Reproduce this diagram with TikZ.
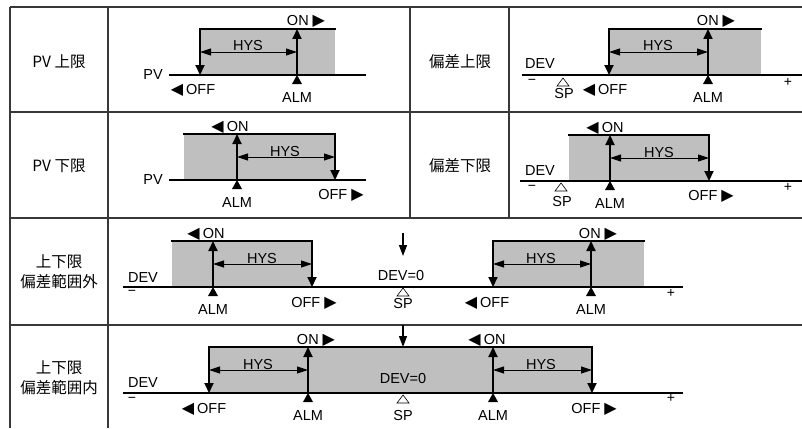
\documentclass[tikz,border=0pt]{standalone}
\usepackage{fontspec}
\setmainfont{Liberation Sans}
\newfontfamily\jpfont{Noto Sans CJK JP}
\newfontfamily\symfont{DejaVu Sans}
\usetikzlibrary{arrows.meta}
\newcommand{\rtri}{\hspace{4pt}{\symfont\fontsize{16}{16}\selectfont ▶}}
\newcommand{\ltri}{{\symfont\fontsize{16}{16}\selectfont ◀}\hspace{3pt}}

\begin{document}
\begin{tikzpicture}[x=1pt,y=-1pt,line join=miter,
  every node/.style={inner sep=0pt,font=\fontsize{14.5}{15}\selectfont},
  rule/.style={draw=black!78,line width=1.3pt},
  axisline/.style={line width=2.2pt},
  zone/.style={fill=black!25},
  rim/.style={line width=2pt,line cap=rect},
  flip/.style={line width=2pt,-{Triangle[length=10pt,width=9pt]}},
  hys/.style={line width=0.9pt,{Triangle[length=11pt,width=7pt]}-{Triangle[length=11pt,width=7pt]}},
  zero/.style={line width=1.3pt,-{Triangle[length=11pt,width=8pt]}},
  rowlabel/.style={font=\jpfont\fontsize{15.5}{20}\selectfont,align=center},
  sign/.style={font=\fontsize{14}{14}\selectfont},
  sptext/.style={anchor=base,font=\fontsize{14.5}{15}\selectfont},
  tag/.style={anchor=base}]
\useasboundingbox (0,0) rectangle (802,428);

% table
\foreach \y in {7,112,218,325} \draw[rule] (10,\y) -- (802,\y);
\foreach \x in {10,108} \draw[rule] (\x,7) -- (\x,428);
\foreach \x in {410,509} \draw[rule] (\x,7) -- (\x,218);

\node[rowlabel] (pvhi) at (59,62) {PV 上限};
\node[rowlabel] (devhi) at (460,62) {偏差上限};
\node[rowlabel] (pvlo) at (59,166) {PV 下限};
\node[rowlabel] (devlo) at (460,166) {偏差下限};
\node[rowlabel] (bandout) at (59,272) {上下限\\偏差範囲外};
\node[rowlabel] (bandin) at (59,378) {上下限\\偏差範囲内};

% PV upper
\begin{scope}[shift={(0,75)},name prefix=pu-]
  \path (169,0) coordinate (l) (366,0) coordinate (r)
        (200,-46) coordinate (t1) (200,0) coordinate (b1) (200,-23) coordinate (h1)
        (297,-46) coordinate (t2) (297,0) coordinate (b2) (297,-23) coordinate (h2)
        (335,-46) coordinate (t3) (335,0) coordinate (b3);
  \fill[zone] (t1) rectangle (b3);
  \draw[axisline] (l) -- (r);
  \draw[rim] (t1) -- (t3);
  \draw[flip] (t1) -- (b1);
  \draw[flip] (b2) -- (t2);
  \draw[hys] (h1) -- (h2);
  \fill (b2) -- ++(-5,9) -- ++(10,0) -- cycle;
  \node (pv) at (153,0) {PV};
  \node[tag] (hys) at (248,-24) {HYS};
  \node[tag] (on) at (306,-49) {ON\rtri};
  \node[tag] (off) at (193,19.5) {\ltri OFF};
  \node[tag] (alm) at (297,27) {ALM};
\end{scope}

% deviation upper
\begin{scope}[shift={(0,75)},name prefix=du-]
  \path (522,0) coordinate (l) (802,0) coordinate (r) (563,0) coordinate (sp)
        (609,-46) coordinate (t1) (609,0) coordinate (b1) (609,-23) coordinate (h1)
        (708,-46) coordinate (t2) (708,0) coordinate (b2) (708,-23) coordinate (h2)
        (761,-46) coordinate (t3) (761,0) coordinate (b3);
  \fill[zone] (t1) rectangle (b3);
  \draw[axisline] (l) -- (r);
  \draw[rim] (t1) -- (t3);
  \draw[flip] (t1) -- (b1);
  \draw[flip] (b2) -- (t2);
  \draw[hys] (h1) -- (h2);
  \fill (b2) -- ++(-5,9) -- ++(10,0) -- cycle;
  \draw[line width=0.6pt] (sp) ++(0,3) -- ++(6,8) -- ++(-12,0) -- cycle;
  \node[tag] (dev) at (540,-7) {DEV};
  \node[sign] (minus) at (532,7) {−};
  \node[sign] (plus) at (788,7) {+};
  \node[sptext] (spt) at (564,23) {SP};
  \node[tag] (hys) at (658,-24) {HYS};
  \node[tag] (on) at (716,-49) {ON\rtri};
  \node[tag] (off) at (605,19.5) {\ltri OFF};
  \node[tag] (alm) at (708,27) {ALM};
\end{scope}

% PV lower
\begin{scope}[shift={(0,180)},name prefix=pl-]
  \path (169,0) coordinate (l) (366,0) coordinate (r)
        (184,-46) coordinate (t0) (184,0) coordinate (b0)
        (237,-46) coordinate (t1) (237,0) coordinate (b1) (237,-23) coordinate (h1)
        (335,-46) coordinate (t2) (335,0) coordinate (b2) (335,-23) coordinate (h2);
  \fill[zone] (t0) rectangle (b2);
  \draw[axisline] (l) -- (r);
  \draw[rim] (t0) -- (t2);
  \draw[flip] (b1) -- (t1);
  \draw[flip] (t2) -- (b2);
  \draw[hys] (h1) -- (h2);
  \fill (b1) -- ++(-5,9) -- ++(10,0) -- cycle;
  \node (pv) at (153,0) {PV};
  \node[tag] (hys) at (285,-24) {HYS};
  \node[tag] (on) at (230,-49) {\ltri ON};
  \node[tag] (off) at (341,19.5) {OFF\rtri};
  \node[tag] (alm) at (237,27) {ALM};
\end{scope}

% deviation lower
\begin{scope}[shift={(0,181)},name prefix=dl-]
  \path (520,0) coordinate (l) (802,0) coordinate (r) (561,0) coordinate (sp)
        (569,-46) coordinate (t0) (569,0) coordinate (b0)
        (610,-46) coordinate (t1) (610,0) coordinate (b1) (610,-23) coordinate (h1)
        (709,-46) coordinate (t2) (709,0) coordinate (b2) (709,-23) coordinate (h2);
  \fill[zone] (t0) rectangle (b2);
  \draw[axisline] (l) -- (r);
  \draw[rim] (t0) -- (t2);
  \draw[flip] (b1) -- (t1);
  \draw[flip] (t2) -- (b2);
  \draw[hys] (h1) -- (h2);
  \fill (b1) -- ++(-5,9) -- ++(10,0) -- cycle;
  \draw[line width=0.6pt] (sp) ++(0,2) -- ++(6,8) -- ++(-12,0) -- cycle;
  \node[tag] (dev) at (540,-6) {DEV};
  \node[sign] (minus) at (532,6.5) {−};
  \node[sign] (plus) at (788,6.5) {+};
  \node[sptext] (spt) at (562,25) {SP};
  \node[tag] (hys) at (659,-24) {HYS};
  \node[tag] (on) at (605,-49) {\ltri ON};
  \node[tag] (off) at (711,19.5) {OFF\rtri};
  \node[tag] (alm) at (610,27) {ALM};
\end{scope}

% band outside
\begin{scope}[shift={(0,287)},name prefix=bo-]
  \path (123,0) coordinate (l) (683,0) coordinate (r) (403,0) coordinate (sp)
        (403,-54) coordinate (z1) (403,-31) coordinate (z2)
        (172,-46) coordinate (t0) (172,0) coordinate (b0)
        (213,-46) coordinate (t1) (213,0) coordinate (b1) (213,-23) coordinate (h1)
        (312,-46) coordinate (t2) (312,0) coordinate (b2) (312,-23) coordinate (h2)
        (493,-46) coordinate (t3) (493,0) coordinate (b3) (493,-23) coordinate (h3)
        (591,-46) coordinate (t4) (591,0) coordinate (b4) (591,-23) coordinate (h4)
        (644,-46) coordinate (t5) (644,0) coordinate (b5);
  \fill[zone] (t0) rectangle (b2);
  \fill[zone] (t3) rectangle (b5);
  \draw[axisline] (l) -- (r);
  \draw[rim] (t0) -- (t2);
  \draw[rim] (t3) -- (t5);
  \draw[flip] (b1) -- (t1);
  \draw[flip] (t2) -- (b2);
  \draw[flip] (t3) -- (b3);
  \draw[flip] (b4) -- (t4);
  \draw[hys] (h1) -- (h2);
  \draw[hys] (h3) -- (h4);
  \draw[zero] (z1) -- (z2);
  \fill (b1) -- ++(-5,9) -- ++(10,0) -- cycle;
  \fill (b4) -- ++(-5,9) -- ++(10,0) -- cycle;
  \draw[line width=0.6pt] (sp) ++(0,1) -- ++(6,8) -- ++(-12,0) -- cycle;
  \node[tag] (dev) at (143,-5) {DEV};
  \node[sign] (minus) at (132,6) {−};
  \node[sign] (plus) at (671,6) {+};
  \node[tag] (zerotext) at (401,-7) {DEV=0};
  \node[sptext] (spt) at (403,21) {SP};
  \node[tag] (hysa) at (262,-24) {HYS};
  \node[tag] (ona) at (206,-49) {\ltri ON};
  \node[tag] (offa) at (314,20) {OFF\rtri};
  \node[tag] (alma) at (213,27) {ALM};
  \node[tag] (hysb) at (541,-24) {HYS};
  \node[tag] (onb) at (598,-49) {ON\rtri};
  \node[tag] (offb) at (487,20) {\ltri OFF};
  \node[tag] (almb) at (591,27) {ALM};
\end{scope}

% band inside
\begin{scope}[shift={(0,393)},name prefix=bi-]
  \path (123,0) coordinate (l) (683,0) coordinate (r) (403,0) coordinate (sp)
        (403,-68) coordinate (z1) (403,-46) coordinate (z2)
        (209,-46) coordinate (t1) (209,0) coordinate (b1) (209,-23) coordinate (h1)
        (308,-46) coordinate (t2) (308,0) coordinate (b2) (308,-23) coordinate (h2)
        (493,-46) coordinate (t3) (493,0) coordinate (b3) (493,-23) coordinate (h3)
        (592,-46) coordinate (t4) (592,0) coordinate (b4) (592,-23) coordinate (h4);
  \fill[zone] (t1) rectangle (b4);
  \draw[axisline] (l) -- (r);
  \draw[rim] (t1) -- (t4);
  \draw[flip] (t1) -- (b1);
  \draw[flip] (b2) -- (t2);
  \draw[flip] (b3) -- (t3);
  \draw[flip] (t4) -- (b4);
  \draw[hys] (h1) -- (h2);
  \draw[hys] (h3) -- (h4);
  \draw[zero] (z1) -- (z2);
  \fill (b2) -- ++(-5,9) -- ++(10,0) -- cycle;
  \fill (b3) -- ++(-5,9) -- ++(10,0) -- cycle;
  \draw[line width=0.6pt] (sp) ++(0,2) -- ++(6,8) -- ++(-12,0) -- cycle;
  \node[tag] (dev) at (143,-6) {DEV};
  \node[sign] (minus) at (132,7) {−};
  \node[sign] (plus) at (671,5) {+};
  \node[tag] (zerotext) at (403,-10) {DEV=0};
  \node[sptext] (spt) at (403,27) {SP};
  \node[tag] (hysa) at (258,-24) {HYS};
  \node[tag] (ona) at (316,-49) {ON\rtri};
  \node[tag] (offa) at (204,20) {\ltri OFF};
  \node[tag] (alma) at (308,27) {ALM};
  \node[tag] (hysb) at (541,-24) {HYS};
  \node[tag] (onb) at (487,-49) {\ltri ON};
  \node[tag] (offb) at (594,20) {OFF\rtri};
  \node[tag] (almb) at (493,27) {ALM};
\end{scope}
\end{tikzpicture}
\end{document}
